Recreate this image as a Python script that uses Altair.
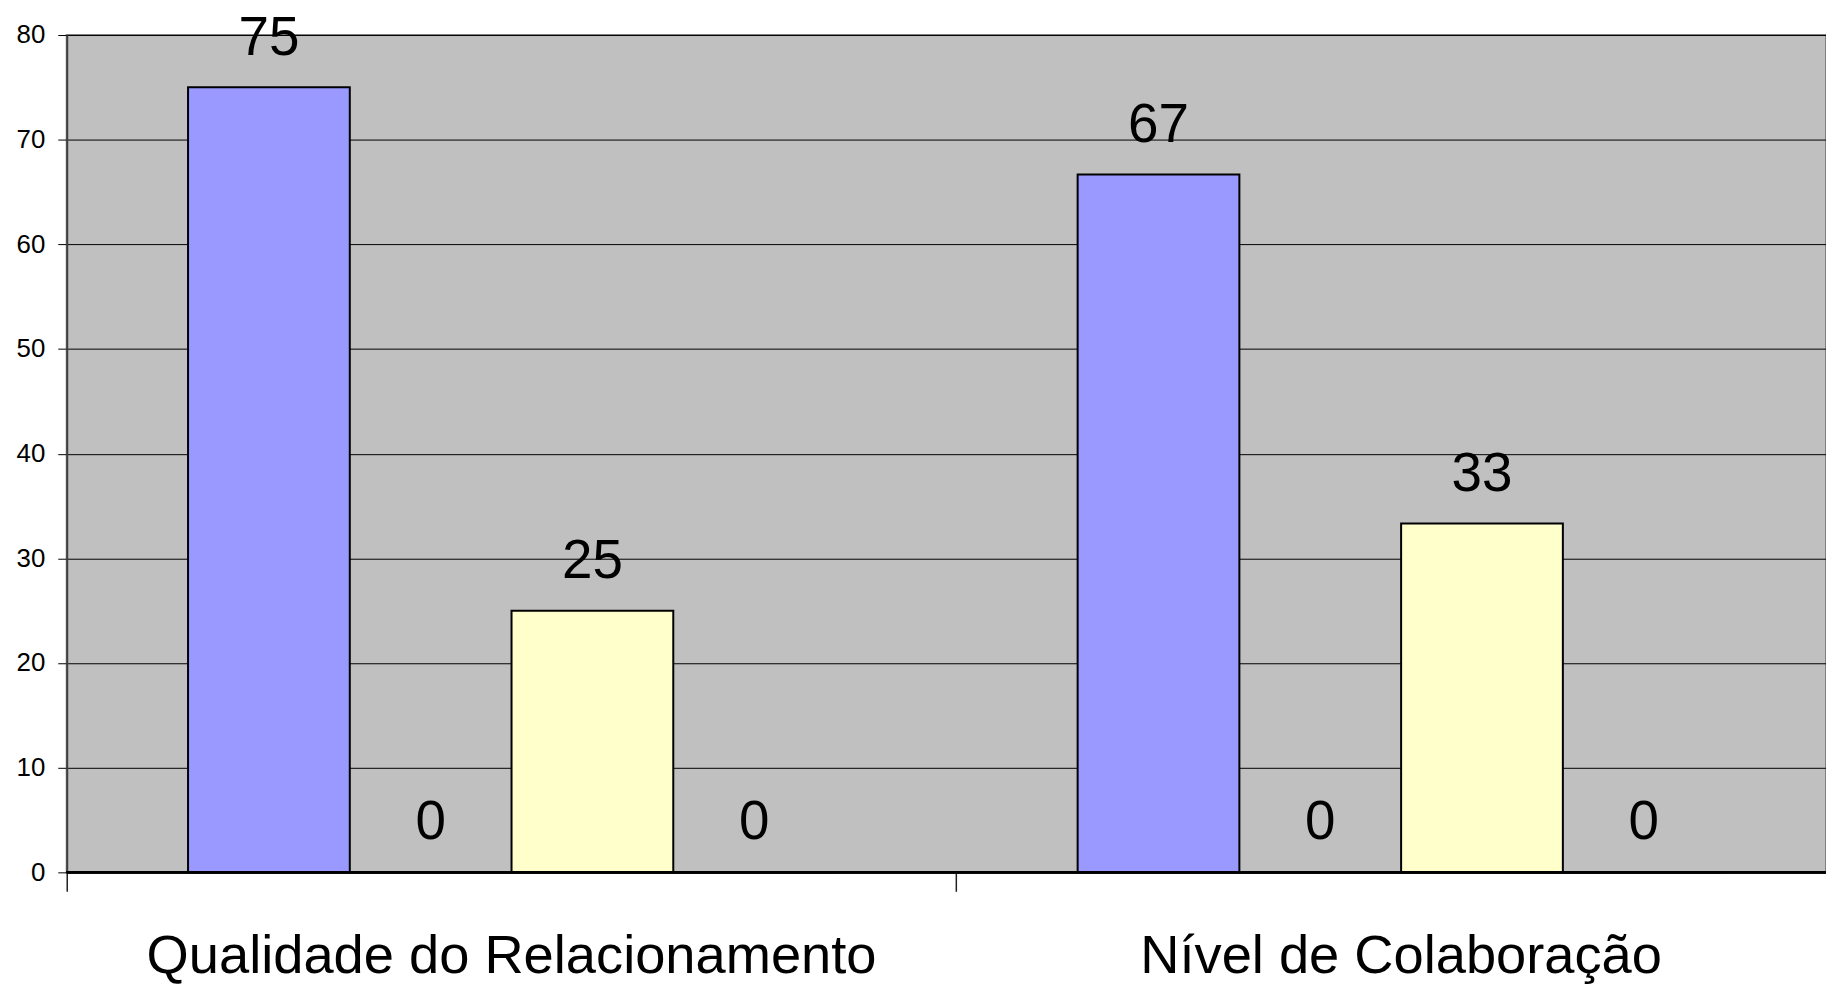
import altair as alt
import pandas as pd

categories = ["Qualidade do Relacionamento", "Nível de Colaboração"]
series_names = ["Série 1", "Série 2", "Série 3", "Série 4"]
values_qualidade = [75, 0, 25, 0]
values_colaboracao = [66.67, 0, 33.33, 0]
series_colors = ["#9999FF", "#993366", "#FFFFCC", "#CCFFFF"]
y_ticks = [0, 10, 20, 30, 40, 50, 60, 70, 80]

rows = []
for cat, vals in zip(categories, [values_qualidade, values_colaboracao]):
    for s, v in zip(series_names, vals):
        rows.append({"categoria": cat, "serie": s, "valor": v})
df = pd.DataFrame(rows)

FONT = "Liberation Sans"

x = alt.X(
    "categoria:N", sort=categories, title=None,
    scale=alt.Scale(range=[0, 1787], paddingInner=0, paddingOuter=0),
    axis=alt.Axis(
        domain=False, ticks=True, tickColor="#202020", tickWidth=1.5, tickSize=19,
        bandPosition=0, labelAngle=0, labelFont=FONT,
        labelFontSize=54.5, labelColor="black", labelPadding=39, labelBaseline="top",
        labelLimit=2000, labelOverlap=False, grid=False,
    ),
)
y = alt.Y(
    "valor:Q", title=None,
    scale=alt.Scale(domain=[0, 80], nice=False),
    axis=alt.Axis(
        values=y_ticks, grid=True, gridColor="black", gridWidth=1,
        domain=True, domainColor="#404040", domainWidth=2,
        tickColor="black", tickSize=9, tickWidth=1, labelPadding=13,
        labelFont=FONT, labelFontSize=26, labelColor="black",
    ),
)
xo = alt.XOffset("serie:N", sort=series_names,
                 scale=alt.Scale(paddingInner=0, paddingOuter=0.75))

base = alt.Chart(df)

bars = base.mark_bar(stroke="black", strokeWidth=2).encode(
    x=x, xOffset=xo, y=y,
    color=alt.Color("serie:N", sort=series_names,
                    scale=alt.Scale(domain=series_names, range=series_colors),
                    legend=None),
)

baseline = base.mark_rule(color="black", strokeWidth=2).encode(y=alt.datum(0))

labels = base.mark_text(
    font=FONT, fontSize=55, dy=-33, baseline="alphabetic", align="center", color="black"
).encode(
    x=x, xOffset=xo, y=y,
    text=alt.Text("valor:Q", format=".0f"),
)

chart = alt.layer(bars, baseline, labels).properties(
    width=1767, height=841,
    autosize=alt.AutoSizeParams(type="none"),
    padding={"left": 59, "top": 25, "right": 0, "bottom": 110},
    background="white",
).configure_view(
    fill="#C0C0C0", stroke="#808080", strokeWidth=2
)

chart.save("out.html", embed_options={"renderer": "svg", "actions": False})
